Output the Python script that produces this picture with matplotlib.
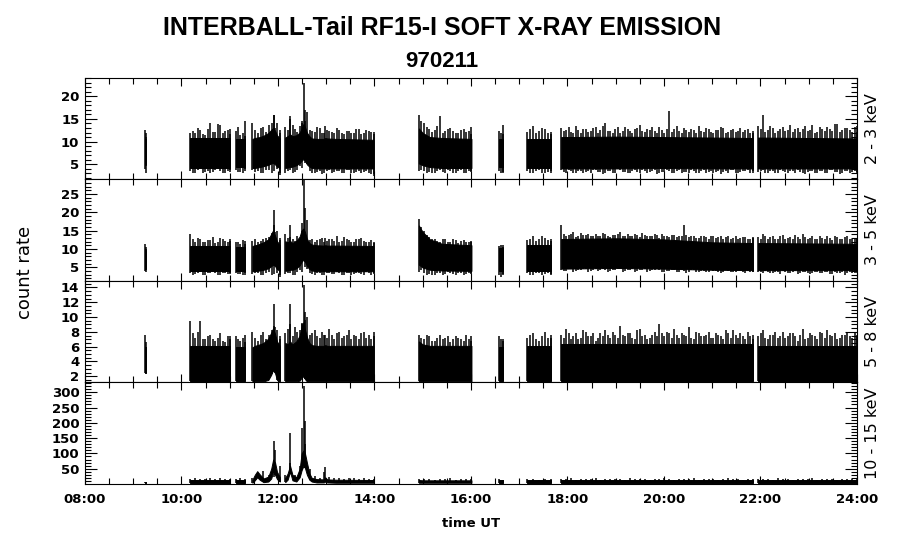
# INTERBALL-Tail RF15-I soft x-ray count rates, 1997-02-11
# dense count data drawn as per-bin envelopes (core band + spike tops/bottoms)

import numpy as np
import matplotlib.pyplot as plt
from matplotlib.ticker import FixedLocator, MultipleLocator

# data coverage intervals (hours UT)
SEG_START = [9.24, 10.18, 11.12, 11.47, 12.15, 14.92, 16.58, 17.17, 17.87, 21.95]
SEG_END = [9.27, 11.01, 11.32, 12.04, 13.98, 16.01, 16.67, 17.65, 21.84, 24.0]

# core band nodes (hours UT), shared by all channels
CORE_T = [9.24, 9.27,
          10.18, 11.01,
          11.12, 11.32,
          11.47, 11.52, 11.57, 11.62, 11.7, 11.8, 11.86, 11.9, 11.94, 11.98, 12.04,
          12.15, 12.2, 12.25, 12.3, 12.38, 12.45, 12.49, 12.53, 12.56, 12.6, 12.65, 12.7,
          12.8, 12.95, 12.98, 13.02, 13.2, 13.98,
          14.92, 15.0, 15.15, 15.4, 16.01,
          16.58, 16.67,
          17.17, 17.65,
          17.87, 19.0, 20.0, 21.0, 21.84,
          21.95, 24.0]

# ---- 2 - 3 keV ----
P1_LO = [5.0, 5.0, 4.2, 4.2, 4.4, 4.4,
         4.2, 4.2, 4.3, 4.4, 4.6, 4.9, 5.2, 5.3, 5.0, 4.5, 4.2,
         4.2, 4.3, 4.4, 4.5, 4.8, 5.3, 5.8, 6.2, 5.8, 5.0, 4.5, 4.2, 4.1, 4.1, 4.1, 4.1, 4.1, 4.1,
         5.2, 4.8, 4.4, 4.2, 4.2, 4.4, 4.4, 4.2, 4.2,
         4.1, 4.1, 4.2, 4.1, 4.1, 4.1, 4.1]
P1_HI = [10.5, 10.5, 10.8, 10.8, 10.6, 10.6,
         10.6, 10.8, 10.9, 11.0, 11.3, 11.9, 12.6, 13.0, 12.4, 11.4, 10.7,
         10.9, 11.2, 11.6, 11.2, 11.4, 12.0, 12.9, 13.9, 13.2, 12.0, 11.2, 10.7, 10.6, 10.6, 10.8, 10.7, 10.6, 10.4,
         12.9, 11.9, 11.0, 10.8, 10.6, 10.6, 10.6, 10.6, 10.6,
         11.0, 11.1, 11.0, 10.9, 10.8, 10.9, 10.7]
P1_UP = [[12.6, 11.0],
         [12.0, 11.8, 12.6, 11.4, 14.0, 12.2, 13.6, 12.4, 12.8],
         [12.4, 11.5, 14.6],
         [14.0, 12.0, 13.2, 13.6, 15.8, 12.6],
         [13.2, 15.0, 12.8, 13.4, 14.6, 12.6, 12.2, 13.0, 11.8, 12.4, 12.0, 12.6, 11.6, 12.4, 12.0,
          12.8, 11.8, 12.4, 12.2],
         [15.8, 14.0, 12.8, 12.6, 15.6, 12.4, 13.0, 12.0, 12.6, 12.2, 13.2],
         [12.4, 13.6],
         [12.2, 13.4, 12.4, 12.8, 12.2],
         [13.0, 12.6, 12.2, 13.4, 12.0, 12.8, 12.4, 13.2, 12.6, 14.2,
          12.4, 12.8, 12.0, 13.2, 12.4, 12.8, 13.6, 12.2, 12.6, 12.4,
          13.2, 12.0, 16.8, 12.8, 12.4, 13.0, 12.2, 12.6, 13.4, 12.2,
          12.8, 12.0, 12.6, 13.0, 12.2, 12.8, 12.4, 12.2, 12.8, 12.0],
         [13.4, 15.8, 12.6, 13.0, 12.4, 13.2, 12.6, 12.2, 13.0, 12.8,
          12.4, 13.6, 12.2, 12.8, 13.2, 12.4, 13.8, 12.6, 13.0, 12.2, 13.4]]
P1_UP2 = [[11.8, 10.5],
          [12.4, 13.0, 11.6, 12.8, 12.2, 13.8, 11.8, 12.6, 11.6],
          [13.2, 12.0, 11.2],
          [12.6, 13.0, 12.2, 14.2, 14.0, 11.8],
          [12.6, 13.6, 12.2, 14.0, 16.5, 12.4, 13.2, 11.8, 12.6, 12.2, 13.0, 11.8, 12.4, 12.0, 12.8,
           11.6, 12.6, 12.2, 11.6],
          [14.6, 13.2, 12.2, 13.4, 12.0, 12.8, 12.4, 11.8, 12.8, 12.4, 11.6],
          [12.0, 11.6],
          [12.8, 11.8, 13.0, 12.0, 11.6],
          [12.4, 13.2, 11.8, 12.6, 12.8, 12.2, 13.0, 11.8, 13.4, 12.4,
           12.0, 13.2, 12.4, 12.8, 11.8, 13.0, 12.4, 12.8, 13.2, 12.0,
           12.6, 12.8, 12.2, 13.4, 11.8, 12.6, 12.8, 12.0, 12.4, 13.0,
           12.2, 12.6, 13.2, 11.8, 12.6, 12.2, 13.0, 12.6, 11.8, 12.4],
          [12.8, 12.2, 13.4, 12.0, 12.8, 12.4, 13.6, 12.8, 12.2, 13.4,
           12.6, 12.0, 13.2, 12.4, 12.8, 13.8, 12.2, 13.0, 12.6, 13.2, 12.2]]
P1_DN = [[3.0, 5.0],
         [3.2, 3.8, 3.0, 3.6, 3.4, 3.9, 3.1, 3.5, 3.3],
         [3.4, 3.0, 3.6],
         [3.4, 3.0, 3.8, 3.2, 3.9, 2.6],
         [3.6, 3.2, 3.8, 4.2, 5.0, 3.0, 3.4, 2.8, 3.6, 3.2, 3.5, 3.0, 3.8, 3.2, 3.4, 3.0, 3.6, 2.9, 2.4],
         [3.8, 3.2, 3.0, 3.6, 3.3, 3.8, 3.1, 3.5, 3.2, 3.6, 3.4],
         [3.0, 3.4],
         [3.2, 3.6, 3.0, 3.4, 3.1],
         [3.4, 3.8, 3.2, 3.6, 3.0, 3.5, 3.8, 3.3, 2.8, 3.6,
          3.2, 3.9, 3.4, 3.0, 3.6, 3.3, 3.8, 3.1, 3.5, 2.9,
          3.4, 3.7, 3.2, 3.6, 3.0, 3.4, 3.8, 3.2, 3.5, 3.0,
          3.6, 3.3, 2.9, 3.5, 3.8, 3.2, 3.4, 3.6, 3.1, 3.5],
         [3.6, 3.2, 3.5, 3.0, 3.8, 3.3, 3.6, 3.1, 3.4, 2.8,
          3.6, 3.2, 3.5, 3.0, 3.7, 3.3, 2.9, 3.5, 3.2, 3.6, 3.4]]
P1_DN2 = [[4.0, 4.6],
          [3.6, 3.2, 3.9, 3.4, 3.0, 3.7, 3.5, 3.2, 3.8],
          [3.7, 3.3, 3.9],
          [3.7, 3.5, 3.2, 3.8, 3.5, 3.0],
          [3.2, 3.7, 3.4, 4.6, 5.2, 3.6, 3.0, 3.5, 3.2, 3.7, 3.3, 3.6, 3.2, 3.7, 3.1, 3.6, 3.3, 3.0, 2.8],
          [3.5, 3.6, 3.4, 3.1, 3.7, 3.2, 3.5, 3.0, 3.7, 3.2, 3.6],
          [3.6, 3.2],
          [3.5, 3.1, 3.7, 3.2, 3.6],
          [3.7, 3.2, 3.5, 3.1, 3.6, 3.3, 3.0, 3.7, 3.4, 3.2,
           3.6, 3.1, 3.7, 3.4, 3.2, 3.8, 3.0, 3.5, 3.3, 3.7,
           3.1, 3.4, 3.6, 3.2, 3.8, 3.3, 3.1, 3.6, 3.2, 3.7,
           3.4, 3.0, 3.6, 3.3, 3.1, 3.7, 3.2, 3.5, 3.8, 3.2],
          [3.3, 3.7, 3.1, 3.5, 3.2, 3.6, 3.0, 3.5, 3.7, 3.2,
           3.4, 3.6, 3.1, 3.5, 3.2, 3.8, 3.4, 3.1, 3.6, 3.3, 3.0]]

# ---- 3 - 5 keV ----
P2_LO = [4.5, 4.5, 3.9, 3.9, 4.0, 4.0,
         3.9, 3.9, 4.0, 4.1, 4.3, 4.7, 5.3, 5.7, 5.3, 4.5, 4.0,
         4.0, 4.1, 4.3, 4.3, 4.7, 5.5, 6.5, 7.1, 6.5, 5.3, 4.5, 4.1, 3.9, 3.9, 3.9, 3.9, 3.9, 3.9,
         5.7, 4.9, 4.3, 4.1, 4.0, 3.9, 3.9, 4.0, 4.0,
         4.6, 4.8, 4.6, 4.3, 4.2, 4.2, 4.2]
P2_HI = [9.5, 9.5, 10.8, 10.8, 10.6, 10.6,
         10.8, 11.0, 11.1, 11.4, 11.8, 12.6, 14.1, 15.1, 13.6, 12.1, 11.1,
         12.1, 11.8, 12.2, 11.6, 12.2, 13.4, 15.1, 15.6, 14.6, 12.8, 11.6, 11.2, 11.0, 10.9, 11.0, 10.9, 10.9, 10.8,
         16.4, 14.6, 12.6, 11.4, 11.0, 10.2, 10.2, 11.0, 11.0,
         12.7, 12.9, 12.6, 11.8, 11.6, 11.6, 11.4]
P2_UP = [[11.3, 10.0],
         [14.2, 12.0, 12.6, 11.8, 12.4, 11.6, 13.0, 12.2, 12.8],
         [12.0, 11.4, 12.2],
         [12.2, 12.0, 12.6, 13.2, 16.4, 13.0],
         [14.0, 13.2, 12.2, 12.8, 14.0, 12.4, 12.0, 12.6, 11.8, 12.8, 12.2, 12.0, 13.2, 12.4, 11.8,
          12.6, 12.2, 12.0, 11.6],
         [18.2, 15.0, 13.2, 12.6, 12.0, 12.8, 11.8, 12.4, 12.2, 12.0, 11.8],
         [10.8, 11.0],
         [12.4, 13.4, 12.8, 13.0, 12.2],
         [16.4, 13.6, 14.0, 13.2, 14.4, 13.8, 13.4, 14.2, 13.6, 14.0,
          13.2, 13.8, 14.6, 13.4, 13.6, 14.0, 13.2, 13.8, 13.4, 14.2,
          13.0, 13.6, 13.2, 13.8, 13.4, 16.4, 13.2, 13.6, 13.0, 13.4,
          12.8, 13.6, 13.2, 12.8, 13.4, 13.0, 12.6, 13.2, 12.8, 13.0],
         [13.2, 14.0, 12.8, 13.4, 12.6, 13.8, 13.0, 12.6, 13.2, 14.0,
          12.8, 13.4, 12.6, 13.0, 13.6, 12.4, 13.2, 12.8, 13.4, 12.6, 13.0]]
P2_UP2 = [[10.5, 9.8],
          [12.6, 13.0, 11.8, 12.4, 13.2, 12.0, 12.6, 11.8, 12.2],
          [11.8, 12.4, 11.4],
          [12.6, 12.2, 13.0, 14.4, 15.0, 12.4],
          [13.0, 12.6, 13.4, 14.8, 18.0, 12.8, 12.4, 13.0, 12.2, 12.6, 13.4, 12.2, 12.8, 12.0, 12.6,
           13.0, 11.8, 12.4, 12.0],
          [16.0, 13.8, 12.8, 12.2, 12.6, 12.0, 12.6, 11.6, 12.4, 11.8, 12.2],
          [11.2, 10.6],
          [12.8, 12.2, 13.6, 12.4, 12.6],
          [14.2, 13.8, 14.6, 13.4, 13.8, 14.0, 13.6, 13.4, 14.4, 13.6,
           13.8, 14.0, 13.4, 14.2, 13.6, 13.8, 14.4, 13.4, 13.6, 13.8,
           14.0, 13.4, 13.8, 13.2, 13.6, 13.8, 13.4, 13.0, 13.6, 13.2,
           13.4, 13.0, 13.6, 13.2, 12.8, 13.4, 13.0, 13.2, 12.6, 13.2],
          [12.8, 13.6, 13.2, 12.6, 13.4, 12.8, 13.2, 13.8, 12.6, 13.2,
           13.0, 12.8, 13.6, 12.6, 13.0, 13.4, 12.8, 13.2, 12.6, 13.0, 12.8]]
P2_DN = [[3.8, 4.5],
         [3.0, 3.5, 2.8, 3.3, 3.6, 2.9, 3.4, 3.1, 3.5],
         [3.2, 2.8, 3.4],
         [3.3, 2.8, 3.5, 3.0, 3.4, 2.4],
         [3.4, 3.0, 3.6, 3.8, 4.6, 3.2, 3.4, 2.8, 3.5, 3.1, 3.6, 2.9, 3.4, 3.0, 3.5, 3.2, 3.6, 2.9, 3.3],
         [4.2, 3.0, 2.8, 3.4, 3.0, 3.6, 3.1, 3.4, 2.9, 3.5, 3.2],
         [2.4, 3.2],
         [3.0, 3.4, 2.8, 3.3, 3.0],
         [4.0, 4.4, 3.8, 4.2, 4.6, 3.6, 4.3, 4.0, 4.5, 3.8,
          4.2, 4.4, 3.6, 4.1, 4.5, 3.9, 4.3, 3.7, 4.2, 4.4,
          3.8, 4.0, 4.3, 3.6, 4.1, 3.5, 4.2, 3.8, 4.0, 3.6,
          4.2, 3.9, 3.5, 4.1, 3.8, 3.6, 4.0, 3.4, 3.8, 3.7],
         [3.6, 3.9, 3.4, 3.8, 3.2, 3.7, 3.5, 3.9, 3.3, 3.6,
          3.1, 3.8, 3.4, 3.6, 3.2, 3.7, 3.5, 3.0, 3.6, 3.3, 3.4]]
P2_DN2 = [[4.0, 4.5],
          [3.4, 3.1, 3.6, 2.9, 3.3, 3.5, 3.0, 3.4, 3.2],
          [3.5, 3.1, 3.0],
          [3.1, 3.4, 3.0, 3.6, 3.2, 2.8],
          [3.2, 3.5, 3.0, 4.2, 5.0, 3.5, 3.0, 3.3, 3.0, 3.4, 3.1, 3.5, 3.0, 3.3, 3.1, 3.4, 3.0, 3.3, 3.1],
          [3.6, 3.3, 3.1, 3.0, 3.4, 3.1, 3.3, 3.0, 3.4, 3.1, 3.3],
          [3.0, 2.8],
          [3.3, 3.0, 3.4, 3.1, 3.2],
          [4.3, 4.0, 4.5, 3.9, 4.2, 4.4, 4.0, 4.6, 4.1, 4.3,
           3.9, 4.2, 4.5, 4.0, 4.3, 3.8, 4.1, 4.4, 3.9, 4.1,
           4.3, 3.7, 4.0, 4.2, 3.8, 4.0, 3.7, 4.1, 3.8, 4.0,
           3.7, 4.0, 3.8, 3.6, 4.0, 3.7, 3.9, 3.6, 3.9, 3.6],
          [3.8, 3.4, 3.7, 3.3, 3.6, 3.9, 3.4, 3.6, 3.2, 3.7,
           3.5, 3.3, 3.7, 3.4, 3.6, 3.2, 3.5, 3.7, 3.3, 3.5, 3.6]]

# ---- 5 - 8 keV ----
P3_LO = [2.5, 2.5, 1.3, 1.3, 1.3, 1.3,
         1.3, 1.3, 1.3, 1.3, 1.3, 1.5, 2.2, 2.9, 2.4, 1.5, 1.3,
         1.3, 1.3, 1.3, 1.3, 1.3, 1.4, 1.8, 2.0, 1.6, 1.3, 1.3, 1.3, 1.3, 1.3, 1.3, 1.3, 1.3, 1.3,
         1.3, 1.3, 1.3, 1.3, 1.3, 1.3, 1.3, 1.3, 1.3,
         1.3, 1.3, 1.3, 1.3, 1.3, 1.3, 1.3]
P3_HI = [6.0, 6.0, 6.1, 6.1, 5.9, 5.9,
         5.9, 6.1, 6.2, 6.3, 6.5, 7.1, 7.9, 8.5, 7.7, 6.7, 6.1,
         6.5, 6.3, 6.7, 6.3, 6.7, 7.5, 8.7, 9.3, 8.3, 7.3, 6.5, 6.2, 6.1, 6.1, 6.2, 6.1, 6.1, 6.1,
         6.7, 6.3, 6.1, 6.1, 6.1, 5.9, 5.9, 6.1, 6.1,
         6.3, 6.3, 6.3, 6.3, 6.3, 6.1, 6.1]
P3_UP = [[7.6, 6.0],
         [9.4, 7.2, 9.4, 7.0, 7.6, 6.8, 7.8, 6.6, 7.4],
         [7.4, 6.8, 7.6],
         [8.0, 6.8, 8.0, 7.6, 8.8, 7.4],
         [7.8, 9.0, 8.6, 8.2, 9.6, 7.6, 8.2, 7.2, 7.6, 8.4, 7.0, 8.0, 7.4, 8.2, 7.6, 7.0, 8.0, 7.6, 8.0],
         [7.6, 7.0, 7.4, 6.8, 7.6, 7.2, 6.6, 7.4, 7.0, 7.6, 6.8],
         [7.4, 7.0],
         [7.2, 7.8, 6.8, 8.0, 7.2],
         [7.6, 8.4, 7.0, 7.8, 7.2, 8.0, 7.4, 6.8, 7.8, 8.2,
          7.2, 7.6, 8.8, 7.4, 7.8, 7.0, 8.4, 7.6, 7.2, 8.0,
          9.0, 7.4, 7.8, 8.4, 7.2, 7.6, 8.6, 7.0, 7.8, 7.4,
          8.0, 7.2, 7.6, 7.0, 7.8, 8.2, 7.2, 7.4, 8.0, 7.0],
         [7.4, 8.2, 7.0, 7.6, 7.2, 8.0, 7.4, 7.8, 6.8, 8.4,
          7.2, 7.6, 7.0, 7.8, 8.2, 7.4, 7.0, 7.6, 8.0, 7.2, 7.4]]
P3_UP2 = [[6.6, 6.0],
          [7.8, 8.0, 7.0, 7.4, 7.0, 7.2, 6.8, 7.4, 7.0],
          [7.0, 7.2, 6.6],
          [7.2, 7.6, 7.0, 8.2, 8.2, 7.0],
          [8.4, 7.4, 8.0, 9.2, 10.0, 7.8, 7.4, 8.0, 7.2, 7.6, 7.8, 7.2, 7.6, 7.0, 7.4, 7.8, 7.2, 7.0, 7.4],
          [7.2, 7.6, 6.8, 7.2, 7.0, 7.4, 7.0, 7.2, 6.8, 7.0, 7.4],
          [7.0, 6.8],
          [7.6, 7.0, 7.4, 7.2, 7.6],
          [7.2, 7.8, 7.4, 7.0, 8.2, 7.4, 7.8, 7.2, 7.4, 7.6,
           8.0, 7.2, 7.6, 7.8, 7.2, 8.2, 7.4, 7.0, 7.6, 7.4,
           7.8, 8.0, 7.2, 7.6, 7.8, 7.4, 7.2, 8.0, 7.4, 7.6,
           7.2, 7.8, 7.4, 8.2, 7.2, 7.6, 7.8, 7.0, 7.4, 7.6],
          [7.8, 7.2, 7.6, 8.0, 7.4, 7.2, 7.8, 7.4, 7.6, 7.0,
           7.8, 7.4, 8.0, 7.2, 7.6, 7.8, 7.2, 7.6, 7.4, 7.8, 7.6]]

# ---- 10 - 15 keV ----
P4_LO = [3, 3, 4, 4, 4, 4,
         4, 12, 22, 14, 6, 8, 18, 40, 30, 16, 8,
         6, 14, 40, 12, 8, 22, 45, 60, 52, 30, 14, 8, 5, 5, 8, 5, 4, 4,
         4, 4, 4, 4, 4, 3, 3, 4, 4,
         4, 4, 4, 4, 4, 4, 4]
P4_HI = [8, 8, 13, 13, 13, 13,
         14, 30, 42, 32, 18, 24, 50, 80, 70, 40, 22,
         20, 34, 60, 30, 22, 50, 100, 110, 100, 70, 35, 20, 16, 15, 22, 15, 14, 13,
         13, 12, 12, 12, 12, 12, 12, 12, 12,
         13, 13, 13, 13, 13, 13, 13]
P4_UP = [[8, 6],
         [16, 18, 15, 17, 20, 16, 18, 15, 17],
         [16, 18, 15],
         [18, 36, 44, 30, 24, 60],
         [30, 70, 28, 60, 130, 50, 26, 20, 40, 22, 18, 20, 16, 18, 20, 16, 18, 15, 17],
         [16, 15, 17, 14, 16, 15, 18, 14, 16, 15, 17],
         [15, 14],
         [15, 17, 14, 16, 15],
         [16, 15, 18, 14, 16, 17, 15, 19, 14, 16,
          15, 17, 16, 14, 18, 15, 16, 17, 14, 16,
          15, 18, 16, 14, 17, 15, 16, 19, 14, 16,
          15, 17, 14, 16, 18, 15, 16, 14, 17, 15],
         [16, 15, 17, 14, 18, 15, 16, 14, 17, 15,
          16, 18, 14, 16, 15, 17, 14, 16, 15, 17, 16]]

# isolated peaks around noon
PEAK_T = [11.91, 11.94, 12.25, 12.49, 12.53, 12.56, 12.98]
P1_PEAK = [15.8, 13.0, 15.6, 14.5, 22.8, 17.0, 13.5]
P2_PEAK = [20.7, 14.5, 16.4, 17.0, 28.7, 21.3, 13.0]
P3_PEAK = [11.7, 8.6, 11.7, 9.1, 14.3, 10.7, 7.6]
P4_PEAK = [140, 111, 168, 182, 320, 207, 56]

BANDS = ["2 - 3 keV", "3 - 5 keV", "5 - 8 keV", "10 - 15 keV"]
YLIMS = [(1.7, 24.0), (1.3, 29.0), (1.2, 14.9), (1.6, 333.0)]
YMAJOR = [[5, 10, 15, 20], [5, 10, 15, 20, 25], [2, 4, 6, 8, 10, 12, 14],
          [50, 100, 150, 200, 250, 300]]
YMINOR = [1, 1, 0.5, 10]
XTICKS = [8, 10, 12, 14, 16, 18, 20, 22, 24]
XLABELS = ["08:00", "10:00", "12:00", "14:00", "16:00", "18:00", "20:00", "22:00", "24:00"]

plt.rcParams['font.family'] = 'DejaVu Sans'

fig, axes = plt.subplots(4, 1, figsize=(9, 5.48), dpi=100, sharex=True,
                         gridspec_kw=dict(hspace=0))
fig.subplots_adjust(left=0.0944, right=0.9522, bottom=0.1177, top=0.8577)

# lo, hi, up, up2, dn, dn2, peak
panels = [(P1_LO, P1_HI, P1_UP, P1_UP2, P1_DN, P1_DN2, P1_PEAK),
          (P2_LO, P2_HI, P2_UP, P2_UP2, P2_DN, P2_DN2, P2_PEAK),
          (P3_LO, P3_HI, P3_UP, P3_UP2, None, None, P3_PEAK),
          (P4_LO, P4_HI, P4_UP, None, None, None, P4_PEAK)]

t = np.array(CORE_T)
for k, ax in enumerate(axes):
    lo, hi, up, up2, dn, dn2, peak = panels[k]
    lo = np.array(lo, float)
    hi = np.array(hi, float)
    for i in range(len(SEG_START)):
        s, e = SEG_START[i], SEG_END[i]
        m = (t >= s - 1e-6) & (t <= e + 1e-6)
        ax.fill_between(t[m], lo[m], hi[m], color='black', lw=0.7)
        n = len(up[i])
        x = np.linspace(s, e, n)
        # second sample of each bin sits half a bin later
        xd = x + (e - s) / max(n - 1, 1) / 2
        xd[-1] = e
        c_lo = np.interp(x, t[m], lo[m])
        cd_lo = np.interp(xd, t[m], lo[m])
        cd_hi = np.interp(xd, t[m], hi[m])
        ax.vlines(x, dn2[i] if dn2 is not None else c_lo, up[i], color='black', lw=1.1)
        if up2 is not None or dn is not None:
            ax.vlines(xd, dn[i] if dn is not None else cd_lo,
                      up2[i] if up2 is not None else cd_hi, color='black', lw=1.1)
    ax.vlines(PEAK_T, np.interp(PEAK_T, t, lo), peak, color='black', lw=1.1)

    ax.set_xlim(8, 24)
    ax.set_ylim(*YLIMS[k])
    ax.yaxis.set_major_locator(FixedLocator(YMAJOR[k]))
    ax.yaxis.set_minor_locator(MultipleLocator(YMINOR[k]))
    ax.xaxis.set_major_locator(FixedLocator(XTICKS))
    ax.xaxis.set_minor_locator(MultipleLocator(0.5))
    ax.tick_params(axis='x', which='both', direction='in', top=True, bottom=True, width=0.8)
    ax.tick_params(axis='x', which='major', length=5.5)
    ax.tick_params(axis='x', which='minor', length=4)
    ax.tick_params(axis='y', which='both', direction='in', left=True, right=True, width=0.8)
    ax.tick_params(axis='y', which='major', length=8.5, labelsize=9.5, pad=4)
    ax.tick_params(axis='y', which='minor', length=4.3)
    for lab in ax.get_yticklabels():
        lab.set_fontweight('bold')
    for sp in ax.spines.values():
        sp.set_linewidth(0.8)
    ax.yaxis.set_label_position('right')
    ax.set_ylabel(BANDS[k], fontsize=11.5, labelpad=6)

axes[-1].set_xticklabels(XLABELS, fontsize=9.5, fontweight='bold')
axes[-1].tick_params(axis='x', which='major', pad=7)

fig.text(0.491, 0.949, "INTERBALL-Tail RF15-I SOFT X-RAY EMISSION",
         ha='center', va='center', fontsize=18, fontweight='bold', family='Liberation Sans')
fig.text(0.491, 0.887, "970211", ha='center', va='center', fontsize=16,
         fontweight='bold', family='Liberation Sans')
fig.text(0.028, 0.503, "count rate", rotation=90, ha='center', va='center', fontsize=13)
fig.text(0.523, 0.0456, "time UT", ha='center', va='center', fontsize=9.5, fontweight='bold')

fig.savefig("out.png", dpi=100)
